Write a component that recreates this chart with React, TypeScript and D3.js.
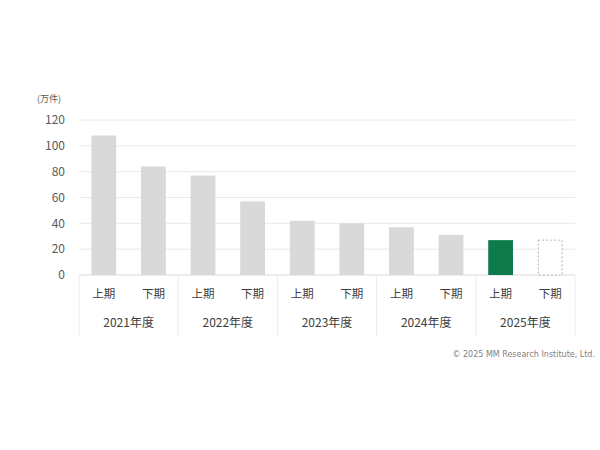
import * as d3 from "d3";
import React from "react";

const years = ["2021年度", "2022年度", "2023年度", "2024年度", "2025年度"];
const halves = ["上期", "下期"];
// 万件, per half year
const values = [108, 84, 77, 57, 42, 40, 37, 31, 27, 27];
// "past" = grey, "now" = green, "plan" = dashed outline
const kinds = ["past", "past", "past", "past", "past", "past", "past", "past", "now", "plan"];
const yTicks = [0, 20, 40, 60, 80, 100, 120];
const unitLabel = "(万件)";
const credit = "© 2025 MM Research Institute, Ltd.";

const width = 600;
const height = 450;
const margin = { left: 79, right: 25, top: 120, bottom: 175 };
const font = "'Noto Sans CJK JP', 'Noto Sans', sans-serif";

const keys = years.flatMap((y) => halves.map((h) => `${y}-${h}`));

const App = () => {
  const x = d3.scaleBand<string>()
    .domain(keys)
    .range([margin.left, width - margin.right])
    .paddingInner(0.5)
    .paddingOuter(0.25);

  const y = d3.scaleLinear()
    .domain([0, 120])
    .range([height - margin.bottom, margin.top]);

  const yearBand = d3.scaleBand<string>()
    .domain(years)
    .range([margin.left, width - margin.right]);

  const base = y(0);

  return (
    <div style={{ position: "absolute", left: 0, top: 0 }}>
      <svg width={width} height={height} style={{ display: "block", fontFamily: font }}>
        <rect width={width} height={height} fill="#fff" />
        {yTicks.map((t) => (
          <g key={t}>
            <line x1={margin.left} x2={width - margin.right} y1={y(t)} y2={y(t)}
              stroke={t === 0 ? "#d9d9d9" : "#e8e8e8"} strokeWidth={1} />
            <text x={65} y={y(t)} dy="0.36em" textAnchor="end" fontSize={12} fill="#595959">{t}</text>
          </g>
        ))}
        <text x={37} y={102} fontSize={9} fill="#595959">{unitLabel}</text>

        {keys.map((k, i) => {
          const kind = kinds[i];
          const x0 = x(k)!;
          const top = y(values[i]);
          if (kind === "plan") {
            return (
              <rect key={k} x={x0 + 0.5} y={top} width={x.bandwidth() - 1} height={base - top}
                fill="#fff" stroke="#b0b0b0" strokeWidth={1} strokeDasharray="2,2" />
            );
          }
          return (
            <rect key={k} x={x0} y={top} width={x.bandwidth()} height={base - top}
              fill={kind === "now" ? "#0f7a4c" : "#d9d9d9"} />
          );
        })}

        {keys.map((k, i) => (
          <text key={k} x={x(k)! + x.bandwidth() / 2} y={294} dy="0.36em" textAnchor="middle"
            fontSize={11.5} fill="#404040">{halves[i % 2]}</text>
        ))}

        {years.map((yr) => (
          <text key={yr} x={yearBand(yr)! + yearBand.bandwidth() / 2} y={323} dy="0.36em"
            textAnchor="middle" fontSize={12} fill="#404040">{yr}</text>
        ))}
        {[...years.map((yr) => yearBand(yr)!), width - margin.right].map((sx, i) => (
          <line key={i} x1={sx} x2={sx} y1={base} y2={336} stroke="#ececec" strokeWidth={1} />
        ))}

        <text x={595} y={354} dy="0.36em" textAnchor="end" fontSize={8}
          fontFamily="'DejaVu Sans', sans-serif" fill="#7f7f7f">{credit}</text>
      </svg>
    </div>
  );
};

export default App;
